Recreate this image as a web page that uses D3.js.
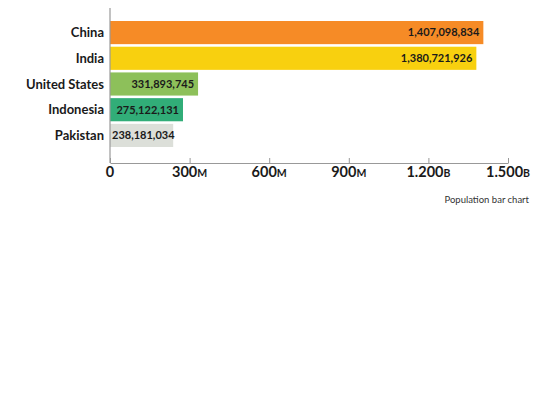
<!DOCTYPE html>
<html>
<head>
<meta charset="utf-8">
<script src="https://cdn.jsdelivr.net/npm/d3@7"></script>
<style>
  body { margin: 0; background: #fff; }
  svg { display: block; font-family: "Lato", "Open Sans", sans-serif; }
</style>
</head>
<body>
<svg id="chart"></svg>
<script>
// data
const countries = ["China", "India", "United States", "Indonesia", "Pakistan"];
const population = [1407098834, 1380721926, 331893745, 275122131, 238181034];
const barColors = ["#f68b26", "#f8d00f", "#8dc05a", "#31ad78", "#dcdfd9"];
const tickValues = [0, 300e6, 600e6, 900e6, 1200e6, 1500e6];
const tickNums = ["0", "300", "600", "900", "1.200", "1.500"];
const tickUnits = ["", "M", "M", "M", "B", "B"];

const width = 538, height = 407;
const margin = {top: 21, left: 110, right: 30};

const data = countries.map((c, i) => ({name: c, value: population[i], color: barColors[i]}));

const svg = d3.select("#chart")
    .attr("width", width)
    .attr("height", height);

const x = d3.scaleLinear()
    .domain([0, 1.5e9])
    .range([margin.left, 508]);

const y = d3.scaleBand()
    .domain(countries)
    .range([margin.top, 147])
    .paddingInner(0.1)
    .paddingOuter(0);

// bars
svg.append("g")
  .selectAll("rect")
  .data(data)
  .join("rect")
    .attr("x", x(0))
    .attr("y", d => y(d.name))
    .attr("width", d => x(d.value) - x(0))
    .attr("height", y.bandwidth())
    .attr("fill", d => d.color);

// value labels, inside the bar end if they fit, else from the bar start
const fmt = d3.format(",");
svg.append("g")
  .selectAll("text")
  .data(data)
  .join("text")
    .attr("y", d => y(d.name) + y.bandwidth() / 2)
    .attr("dy", "0.35em")
    .attr("font-size", 11)
    .attr("font-weight", 700)
    .attr("fill", "#1a1a1a")
    .text(d => fmt(d.value))
    .each(function(d) {
      const w = this.getComputedTextLength();
      const bw = x(d.value) - x(0);
      if (bw > w + 8) {
        d3.select(this).attr("x", x(d.value) - 4).attr("text-anchor", "end");
      } else {
        d3.select(this).attr("x", x(0) + 2).attr("text-anchor", "start");
      }
    });

// category labels
svg.append("g")
  .selectAll("text")
  .data(data)
  .join("text")
    .attr("x", x(0) - 6)
    .attr("y", d => y(d.name) + y.bandwidth() / 2)
    .attr("dy", "0.35em")
    .attr("text-anchor", "end")
    .attr("font-size", 13)
    .attr("font-weight", 700)
    .attr("fill", "#1a1a1a")
    .text(d => d.name);

// y axis line
svg.append("line")
    .attr("x1", x(0)).attr("x2", x(0))
    .attr("y1", 8).attr("y2", 163)
    .attr("stroke", "#999")
    .attr("stroke-width", 1.2);

// x axis
const xAxis = svg.append("g")
    .attr("transform", "translate(0,163)")
    .call(d3.axisTop(x).tickValues(tickValues).tickSize(5).tickSizeOuter(0).tickFormat(""));
xAxis.select(".domain").attr("stroke", "#999").attr("stroke-width", 1.2);
xAxis.selectAll(".tick line").attr("stroke", "#999");

const tl = svg.append("g")
  .selectAll("text")
  .data(tickValues)
  .join("text")
    .attr("x", d => x(d))
    .attr("y", 177)
    .attr("text-anchor", "middle")
    .attr("font-size", 14.5)
    .attr("font-weight", 700)
    .attr("fill", "#1a1a1a");
tl.append("tspan").text((d, i) => tickNums[i]);
tl.append("tspan").attr("font-size", 10.5).text((d, i) => tickUnits[i]);

// caption
svg.append("text")
    .attr("x", 529)
    .attr("y", 203)
    .attr("text-anchor", "end")
    .attr("font-size", 9.5)
    .attr("fill", "#333")
    .text("Population bar chart");
</script>
</body>
</html>
